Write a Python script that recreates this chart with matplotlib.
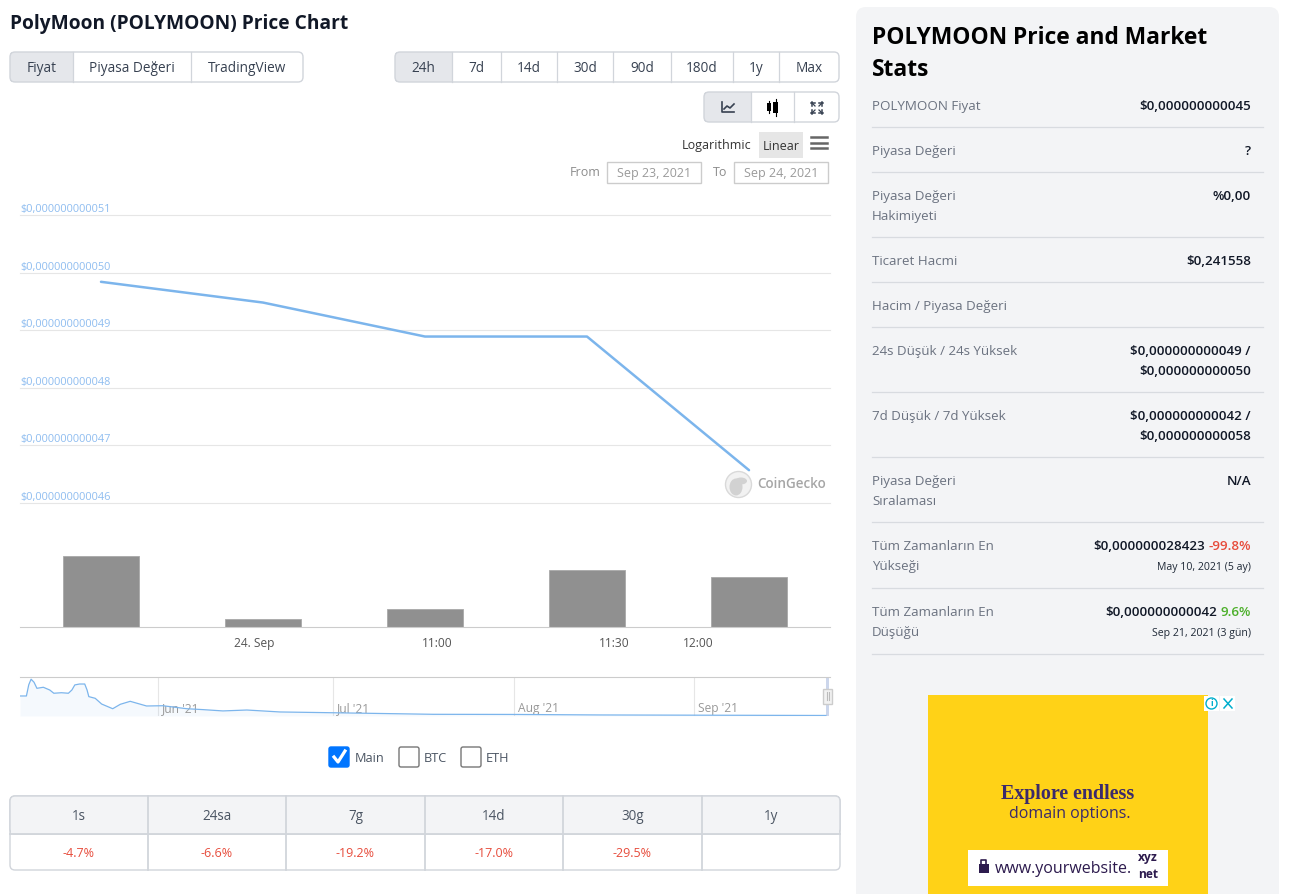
import matplotlib
matplotlib.use('Agg')
import matplotlib.pyplot as plt
from matplotlib.patches import FancyBboxPatch, Rectangle, Circle, Ellipse

W, H = 1299, 894
plt.rcParams['font.family'] = ['Open Sans', 'Noto Sans', 'DejaVu Sans']

# price chart
sample_idx = [0, 1, 2, 3, 4]
prices = [49.84, 49.48, 48.89, 48.89, 46.57]  # units of 1e-12 USD
volumes = [71, 8, 18, 57, 50]
price_ticks = [46, 47, 48, 49, 50, 51]
price_labels = ['$0,000000000046', '$0,000000000047', '$0,000000000048',
                '$0,000000000049', '$0,000000000050', '$0,000000000051']
time_ticks = [0.944, 2.074, 3.167, 3.685]
time_labels = ['24. Sep', '11:00', '11:30', '12:00']

# navigator, days since 8 May, price in 1e-9 USD
nav_days = [0, 1.1, 1.5, 1.9, 2.4, 2.9, 4, 5.1, 5.8, 7.1, 8.3, 8.9, 9.4, 10.2, 11.1, 11.5, 11.8, 12.9, 14,
            15.9, 17.2, 18.9, 21.7, 24.5, 28.6, 31.4, 34.8, 38.9, 44.6, 53.7,
            70.9, 84.7, 99.5, 138.2]
nav_vals = [15.4, 15.4, 24.0, 28.3, 26.0, 21.3, 22.1, 20.0, 17.5, 17.9, 17.5, 20.0, 23.9, 24.6, 24.6, 20.0, 14.9,
            13.6, 9.2, 5.6, 9.0, 11.3, 7.7, 7.9, 5.6, 4.9, 3.9, 4.6, 3.1, 2.5,
            1.3, 1.2, 0.8, 0.4]
month_days = [23.7, 53.7, 84.7, 115.6]
month_labels = ["Jun '21", "Jul '21", "Aug '21", "Sep '21"]

# buttons
chart_tabs = ['Fiyat', 'Piyasa Değeri', 'TradingView']
range_tabs = ['24h', '7d', '14d', '30d', '90d', '180d', '1y', 'Max']
change_heads = ['1s', '24sa', '7g', '14d', '30g', '1y']
change_vals = ['-4.7%', '-6.6%', '-19.2%', '-17.0%', '-29.5%', '']

# stats panel
stat_names = ['POLYMOON Fiyat', 'Piyasa Değeri', 'Piyasa Değeri\nHakimiyeti', 'Ticaret Hacmi',
              'Hacim / Piyasa Değeri', '24s Düşük / 24s Yüksek', '7d Düşük / 7d Yüksek',
              'Piyasa Değeri\nSıralaması', 'Tüm Zamanların En\nYükseği', 'Tüm Zamanların En\nDüşüğü']
stat_vals = ['$0,000000000045', '?', '%0,00', '$0,241558', '',
             '$0,000000000049 /\n$0,000000000050', '$0,000000000042 /\n$0,000000000058',
             'N/A', '', '']

BLUE = '#7cb5ec'
DARK = '#212529'
GREY = '#6b7280'
BORDER = '#d1d5db'
ACTIVE = '#e5e7eb'
PANEL = '#f3f4f6'
RED = '#e74c3c'


def fpx(px):
    return px * 72 / 100


def px_axes(fig, x0, y0, x1, y1):
    return fig.add_axes([x0 / W, 1 - y1 / H, (x1 - x0) / W, (y1 - y0) / H])


fig = plt.figure(figsize=(W / 100, H / 100), dpi=100)

# full page layer in pixel coordinates for everything that is not a plot
ui = fig.add_axes([0, 0, 1, 1], zorder=0)
ui.set_xlim(0, W)
ui.set_ylim(H, 0)
ui.axis('off')


def txt(x, y, s, size=13, color=DARK, ha='left', va='center', **kw):
    return ui.text(x, y + 1.5, s, fontsize=fpx(size), color=color, ha=ha, va=va, **kw)


def round_box(x0, y0, x1, y1, fc='white', ec=BORDER, r=5, lw=1.0, z=1):
    p = FancyBboxPatch((x0 + r, y0 + r), x1 - x0 - 2 * r, y1 - y0 - 2 * r,
                       boxstyle=f'round,pad={r},rounding_size={r}', fc=fc, ec=ec, lw=lw, zorder=z)
    ui.add_patch(p)
    return p


def rect(x0, y0, x1, y1, fc='white', ec='none', lw=1, z=2):
    ui.add_patch(Rectangle((x0, y0), x1 - x0, y1 - y0, fc=fc, ec=ec, lw=lw, zorder=z))


def button_group(edges, labels, y0, y1, active=0, size=13.6):
    round_box(edges[0], y0, edges[-1], y1)
    box = round_box(edges[0], y0, edges[-1], y1, fc=ACTIVE)
    clip = Rectangle((edges[active], y0), edges[active + 1] - edges[active], y1 - y0,
                     transform=ui.transData)
    box.set_clip_path(clip)
    for e in edges[1:-1]:
        ui.plot([e, e], [y0, y1], color=BORDER, lw=0.9, zorder=3)
    for i, lab in enumerate(labels):
        txt((edges[i] + edges[i + 1]) / 2, (y0 + y1) / 2 - 0.5, lab, size=size, color='#374151',
            ha='center', fontweight='medium', zorder=4)


txt(10, 22.5, 'PolyMoon (POLYMOON) Price Chart', size=19.2, color='#111827', fontweight='bold')
button_group([10, 73, 191, 303], chart_tabs, 52, 82)
button_group([395, 452, 501, 557, 613, 671, 733, 779, 839], range_tabs, 52, 82)
button_group([704, 751, 794, 839], ['', '', ''], 92, 122)

# line, candle and expand icons
ui.plot([722, 722, 734], [102, 112, 112], color='#374151', lw=1.2, zorder=4)
ui.plot([724, 727, 730, 734], [109, 106, 108, 104], color='#374151', lw=1.2, zorder=4)
for cx, top, bot, w, t2, b2 in [(769, 101, 113, 2, 103, 111), (776, 99, 116, 2.5, 102, 113)]:
    ui.plot([cx, cx], [top, bot], color='black', lw=0.8, zorder=4)
    rect(cx - w, t2, cx + w, b2, fc='black', z=4)
for sx, sy in [(-1, -1), (1, -1), (-1, 1), (1, 1)]:
    ui.plot([817 + 2 * sx, 817 + 5 * sx], [108 + 2 * sy, 108 + 5 * sy], color='#374151', lw=0.9, zorder=4)
    ui.plot([817 + 5 * sx, 817 + 5 * sx], [108 + 2 * sy, 108 + 6 * sy], color='#374151', lw=1.1, zorder=4)
    ui.plot([817 + 2 * sx, 817 + 6 * sx], [108 + 5 * sy, 108 + 5 * sy], color='#374151', lw=1.1, zorder=4)

txt(682, 144.5, 'Logarithmic', size=12.5, color='#333333')
rect(759, 132, 803, 158, fc='#e6e6e6')
txt(781, 144.5, 'Linear', size=12.5, color='#333333', ha='center', zorder=4)
for yy in [137, 142.5, 148]:
    ui.plot([811, 827], [yy, yy], color='#666666', lw=1.8, zorder=3)

txt(570, 171.5, 'From', size=12.5, color='#8c8c8c')
rect(607.5, 161.5, 701.5, 182.5, ec='#cccccc')
txt(654, 171.5, 'Sep 23, 2021', size=12.5, color='#9a9a9a', ha='center', zorder=4)
txt(713, 171.5, 'To', size=12.5, color='#8c8c8c')
rect(734.5, 161.5, 828.5, 182.5, ec='#cccccc')
txt(781, 171.5, 'Sep 24, 2021', size=12.5, color='#9a9a9a', ha='center', zorder=4)

# price panel
ax = px_axes(fig, 20, 215, 830, 503)
ax.patch.set_alpha(0)
ax.plot(sample_idx, prices, color=BLUE, lw=1.8, solid_capstyle='round', zorder=3)
ax.set_xlim(-0.5, 4.5)
ax.set_ylim(46, 51)
ax.set_xticks([])
ax.set_yticks(price_ticks)
ax.set_yticklabels(price_labels, fontsize=fpx(11), color='#8fbdf0')
ax.tick_params(axis='y', length=0, pad=0)
for lab in ax.get_yticklabels():
    lab.set_ha('left')
    lab.set_va('bottom')
ax.grid(axis='y', color='#e6e6e6', lw=0.8, clip_on=False)
for s in ax.spines.values():
    s.set_visible(False)

# watermark
ui.add_patch(Circle((738.5, 484.5), 13, fc='#f2f2f2', ec='#d9d9d9', lw=1, zorder=2))
ui.add_patch(Ellipse((736, 487), 13, 17, fc='#d2d2d2', ec='none', zorder=3))
ui.add_patch(Ellipse((741, 481), 12, 7, fc='#d2d2d2', ec='none', zorder=3))
txt(757, 482.5, 'CoinGecko', size=13.5, color='#a6a6a6', fontweight='semibold')

# volume panel
vax = px_axes(fig, 20, 556, 830, 627)
vax.patch.set_alpha(0)
vax.bar(sample_idx, volumes, width=0.475, color='#909090', edgecolor='#a8a8a8', lw=0.6)
vax.set_xlim(-0.5, 4.5)
vax.set_ylim(0, 71)
vax.set_yticks([])
vax.set_xticks(time_ticks)
vax.set_xticklabels(time_labels, fontsize=fpx(12), color='#555555')
vax.tick_params(axis='x', length=0, pad=7)
for k, s in vax.spines.items():
    s.set_visible(k == 'bottom')
vax.spines['bottom'].set_color('#cccccc')
vax.spines['bottom'].set_linewidth(0.8)

# navigator
nax = px_axes(fig, 20, 677, 830, 716)
nax.patch.set_alpha(0)
nax.fill_between(nav_days, nav_vals, 0, color=BLUE, alpha=0.07, lw=0)
nax.plot(nav_days, nav_vals, color=BLUE, lw=0.9)
nax.set_xlim(0, 138.9)
nax.set_ylim(0, 30)
nax.set_yticks([])
nax.set_xticks([d + 0.7 for d in month_days])
nax.set_xticklabels(month_labels, fontsize=fpx(12), color='#999999', ha='left')
nax.tick_params(axis='x', direction='in', length=0, pad=-10)
for d in month_days:
    nax.axvline(d, color='#e6e6e6', lw=0.8, zorder=0)
for k, s in nax.spines.items():
    s.set_visible(k == 'top')
nax.spines['top'].set_color('#cccccc')
nax.spines['top'].set_linewidth(0.8)
rect(826, 677, 829.5, 716, fc='#ccd6eb', z=1)
rect(823.5, 688.5, 832.5, 703.5, fc='#f2f2f2', ec='#cccccc', z=3)
for xx in [827, 829]:
    ui.plot([xx, xx], [692, 700], color='#bbbbbb', lw=0.8, zorder=4)

# series checkboxes
round_box(329, 747, 349, 767, fc='#0075ff', ec='#0075ff', r=2)
ui.plot([334, 338, 345], [757, 762, 751], color='white', lw=2.3, zorder=4)
txt(355, 756.5, 'Main', size=12.8, color='#4b5563')
round_box(399, 747, 419, 767, ec='#767676', r=2)
txt(424, 756.5, 'BTC', size=12.8, color='#4b5563')
round_box(461, 747, 481, 767, ec='#767676', r=2)
txt(486, 756.5, 'ETH', size=12.8, color='#4b5563')

# change table
col_edges = [10, 148, 286, 425, 563, 702, 840]
round_box(10, 796, 840, 870, r=5)
round_box(10, 796, 840, 834, fc=PANEL, r=5)
rect(11, 825, 839, 834, fc=PANEL)
ui.plot([10, 840], [834, 834], color=BORDER, lw=1.3, zorder=3)
for e in col_edges[1:-1]:
    ui.plot([e, e], [796, 870], color=BORDER, lw=1.3, zorder=3)
for i in range(6):
    xc = (col_edges[i] + col_edges[i + 1]) / 2
    txt(xc, 815, change_heads[i], size=13.5, color='#4b5563', ha='center', zorder=4)
    txt(xc, 852, change_vals[i], size=12.5, color=RED, ha='center', zorder=4)

# stats panel
round_box(856, 7, 1279, 920, fc=PANEL, ec='none', r=10, lw=0)
txt(872, 37, 'POLYMOON Price and Market', size=22.8, color='black', fontweight='bold', zorder=4)
txt(872, 69, 'Stats', size=22.8, color='black', fontweight='bold', zorder=4)

row_y = [105, 150, 195, 260, 305, 350, 415, 480, 545, 611]
sep_y = [127, 172, 237, 282, 327, 392, 457, 522, 588, 654]
for name, val, y, sy in zip(stat_names, stat_vals, row_y, sep_y):
    for j, part in enumerate(name.split('\n')):
        txt(872, y + 20 * j, part, size=13.4, color=GREY, zorder=4)
    for j, part in enumerate(val.split('\n')):
        if part:
            txt(1251, y + 20 * j, part, size=13.4, color='#111827', ha='right', fontweight='semibold', zorder=4)
    ui.plot([872, 1263], [sy, sy], color='#d8dbe0', lw=0.9, zorder=3)

txt(1205, 545, '$0,000000028423', size=13.4, color='#111827', ha='right', fontweight='semibold', zorder=4)
txt(1251, 545, '-99.8%', size=13.4, color=RED, ha='right', fontweight='semibold', zorder=4)
txt(1251, 566, 'May 10, 2021 (5 ay)', size=10.5, color='#1f2937', ha='right', zorder=4)
txt(1217, 611, '$0,000000000042', size=13.4, color='#111827', ha='right', fontweight='semibold', zorder=4)
txt(1251, 611, '9.6%', size=13.4, color='#4caf2a', ha='right', fontweight='semibold', zorder=4)
txt(1251, 632, 'Sep 21, 2021 (3 gün)', size=10.5, color='#1f2937', ha='right', zorder=4)

# ad
rect(928, 695, 1208, 894, fc='#ffd217', z=3)
txt(1068, 792, 'Explore endless', size=20, color='#3b2a6b', ha='center', fontweight='bold',
    family=['Liberation Serif', 'DejaVu Serif'], zorder=5)
txt(1070, 813, 'domain options.', size=16, color='#3b2a6b', ha='center', zorder=5)
rect(968, 850, 1168, 886, fc='white', z=4)
rect(979, 864, 989, 873, fc='#2d1b4e', z=5)
ui.plot([981.5, 981.5, 986.5, 986.5], [864, 860, 860, 864], color='#2d1b4e', lw=1.2, zorder=5)
txt(995, 867.5, 'www.yourwebsite.', size=16, color='#2d1b4e', zorder=5)
clip = Rectangle((1130, 862), 36, 17, transform=ui.transData)
for yy, s in [(856, 'xyz'), (873, 'net')]:
    t = txt(1148, yy, s, size=12, color='#2d1b4e', ha='center', fontweight='bold', zorder=5)
    t.set_clip_path(clip)
rect(1204, 696, 1219, 711, fc='white', z=5)
rect(1220, 696, 1235, 711, fc='white', z=5)
ui.add_patch(Circle((1211.5, 703.5), 5.5, fc='none', ec='#00aecd', lw=1.0, zorder=6))
txt(1211.5, 702, 'i', size=9, color='#00aecd', ha='center', fontweight='bold', zorder=6)
ui.plot([1224, 1232], [699, 708], color='#00aecd', lw=1.1, zorder=6)
ui.plot([1224, 1232], [708, 699], color='#00aecd', lw=1.1, zorder=6)

fig.savefig('out.png', dpi=100)
